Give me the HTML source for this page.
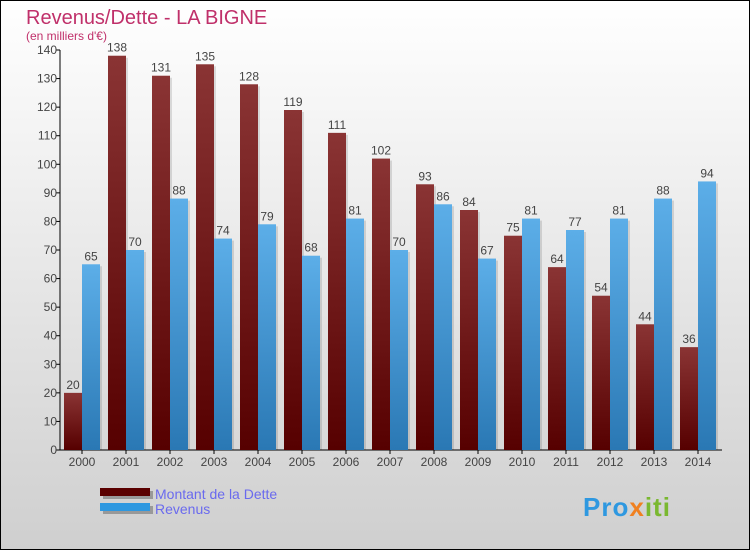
<!DOCTYPE html>
<html><head><meta charset="utf-8"><style>
html,body{margin:0;padding:0}
body{width:750px;height:550px;overflow:hidden;font-family:"Liberation Sans",sans-serif}
</style></head><body>
<svg id="chart" width="750" height="550" xmlns="http://www.w3.org/2000/svg">
<defs>
<linearGradient id="bg" x1="0" y1="0" x2="0" y2="1"><stop offset="0" stop-color="#ffffff"/><stop offset="1" stop-color="#cfcfcf"/></linearGradient>
<linearGradient id="gd" x1="0" y1="0" x2="0" y2="1"><stop offset="0" stop-color="#8a3434"/><stop offset="1" stop-color="#560000"/></linearGradient>
<linearGradient id="gr" x1="0" y1="0" x2="0" y2="1"><stop offset="0" stop-color="#5caee8"/><stop offset="1" stop-color="#2a78b4"/></linearGradient>
</defs>
<rect x="0.5" y="0.5" width="749" height="549" fill="url(#bg)" stroke="#000"/>
<text x="26" y="24" font-size="20" fill="#c0306a">Revenus/Dette - LA BIGNE</text>
<text x="26" y="40" font-size="12" fill="#c0306a">(en milliers d'€)</text>
<g id="axes"></g>
<g id="bars"></g>
<g>
<rect x="103" y="491" width="50" height="8" fill="#999"/>
<rect x="100" y="488" width="50" height="8" fill="#5a0000"/>
<rect x="103" y="506" width="50" height="8" fill="#999"/>
<rect x="100" y="503" width="50" height="8" fill="#2e98e0"/>
<text x="155" y="499" font-size="14" fill="#6a6aee">Montant de la Dette</text>
<text x="155" y="514" font-size="14" fill="#6a6aee">Revenus</text>
</g>
<text x="583" y="516" font-size="26" font-weight="bold" fill="#2e98e0" letter-spacing="1">Pro<tspan fill="#f08020">x</tspan><tspan fill="#7ab830">iti</tspan></text>
</svg>
<script>
const years=["2000","2001","2002","2003","2004","2005","2006","2007","2008","2009","2010","2011","2012","2013","2014"];
const debt=[20,138,131,135,128,119,111,102,93,84,75,64,54,44,36];
const revenue=[65,70,88,74,79,68,81,70,86,67,81,77,81,88,94];
const yTicks=[0,10,20,30,40,50,60,70,80,90,100,110,120,130,140];
const NS="http://www.w3.org/2000/svg";
const x0=60,groupW=44,barW=18,y0=450,yMax=140,plotH=400;
const y=v=>y0-v/yMax*plotH;
const gx=i=>x0+4+i*groupW;
function mk(t,a,p){const e=document.createElementNS(NS,t);for(const k in a)e.setAttribute(k,a[k]);p.appendChild(e);return e;}
const ax=document.getElementById('axes'),bg=document.getElementById('bars');
const yl=mk('line',{x1:x0,y1:y(140),x2:x0,y2:y0,stroke:'#000'},ax);


const xl=mk('line',{x1:x0,y1:y0,x2:x0+groupW*15+2,y2:y0,stroke:'#000'},ax);


yTicks.forEach(v=>{
 mk('line',{x1:x0-4,y1:y(v),x2:x0,y2:y(v),stroke:'#000'},ax);
 const t=mk('text',{x:x0-3,y:y(v)+4,'font-size':12,'text-anchor':'end',fill:'#444'},ax);
 
 
 t.textContent=v;
});
years.forEach((yr,i)=>{
 const c=gx(i)+barW;
 mk('line',{x1:c,y1:y0,x2:c,y2:y0+4,stroke:'#000'},ax);
 const t=mk('text',{x:c,y:y0+16,'font-size':12,'text-anchor':'middle',fill:'#444'},ax);
 
 
 t.textContent=yr;
 [[debt[i],gx(i),'url(#gd)','debt'],[revenue[i],gx(i)+barW,'url(#gr)','revenue']].forEach(([v,bx,f,n])=>{
  mk('rect',{x:bx+2,y:y(v)+2,width:barW,height:y0-y(v)-2,fill:'#000','fill-opacity':0.12},bg);
  const r=mk('rect',{x:bx,y:y(v),width:barW,height:y0-y(v),fill:f},bg);
  
  
  const l=mk('text',{x:bx+barW/2,y:y(v)-4,'font-size':12,'text-anchor':'middle',fill:'#444'},bg);
  
  
  l.textContent=v;
 });
});
</script>
</body></html>
